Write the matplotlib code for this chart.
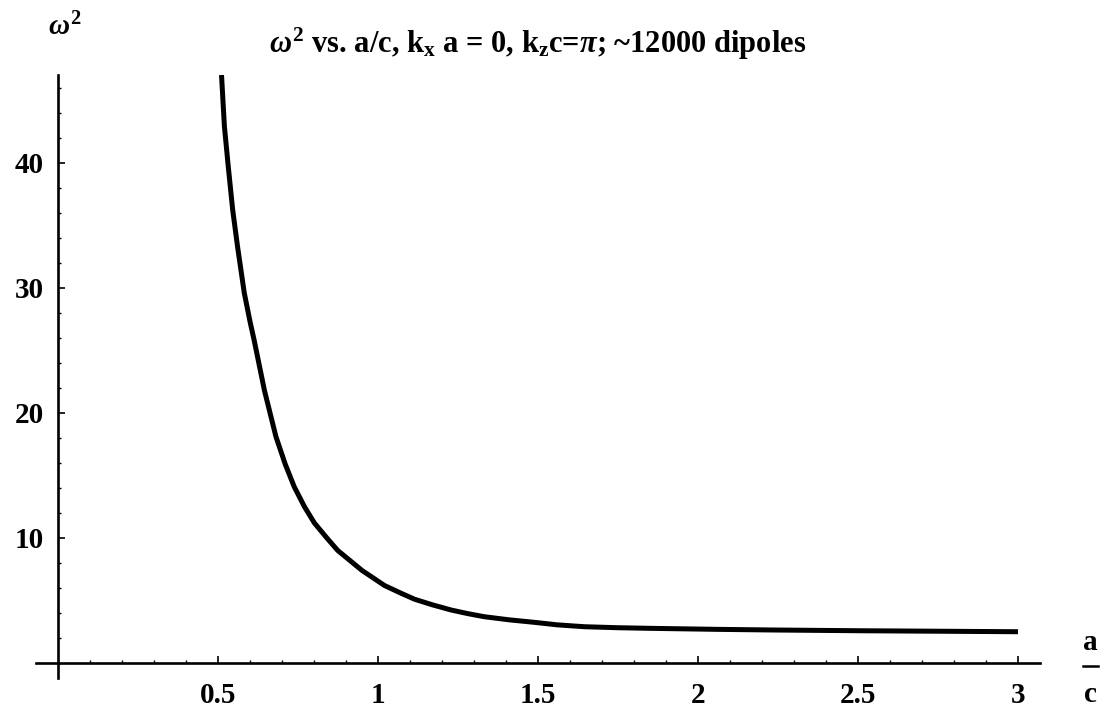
import matplotlib
matplotlib.use('Agg')
import matplotlib.pyplot as plt
from matplotlib.ticker import MultipleLocator
from matplotlib.lines import Line2D

# curve (a/c, omega^2)
a_over_c = [0.511, 0.52, 0.532, 0.546, 0.561, 0.582, 0.60, 0.613, 0.645, 0.681,
            0.71, 0.738, 0.77, 0.801, 0.84, 0.874, 0.95, 1.02, 1.07, 1.114,
            1.17, 1.228, 1.28, 1.332, 1.41, 1.489, 1.56, 1.645, 1.75, 1.853,
            2.06, 2.23, 2.5, 2.75, 3.0]
omega_sq = [47.0, 42.9, 39.7, 36.2, 33.3, 29.6, 27.3, 25.8, 21.8, 18.1,
            15.9, 14.1, 12.5, 11.2, 10.0, 9.0, 7.4, 6.2, 5.6, 5.1,
            4.65, 4.24, 3.95, 3.7, 3.45, 3.25, 3.05, 2.9, 2.82, 2.77,
            2.69, 2.64, 2.58, 2.54, 2.5]

x_ticks = [0.5, 1, 1.5, 2, 2.5, 3]
x_tick_labels = ['0.5', '1', '1.5', '2', '2.5', '3']
y_ticks = [10, 20, 30, 40]

plt.rcParams['font.family'] = 'Liberation Serif'
plt.rcParams['font.weight'] = 'bold'
plt.rcParams['mathtext.fontset'] = 'custom'
plt.rcParams['mathtext.rm'] = 'Liberation Serif:bold'
plt.rcParams['mathtext.it'] = 'Liberation Serif:italic:bold'
plt.rcParams['mathtext.bf'] = 'Liberation Serif:bold'

fig = plt.figure(figsize=(11.02, 7.19), dpi=100)
ax = fig.add_axes([0.0323, 0.0570, 0.9118, 0.8387])

ax.plot(a_over_c, omega_sq, color='black', linewidth=3.6,
        solid_capstyle='butt', solid_joinstyle='round')

ax.set_xlim(-0.07, 3.07)
ax.set_ylim(-1.2, 47.0)

# Mathematica style axes crossing at the origin
for side in ['top', 'right']:
    ax.spines[side].set_visible(False)
ax.spines['left'].set_position(('data', 0))
ax.spines['bottom'].set_position(('data', 0))
ax.spines['left'].set_linewidth(1.9)
ax.spines['bottom'].set_linewidth(1.9)

ax.set_xticks(x_ticks)
ax.set_xticklabels(x_tick_labels)
ax.set_yticks(y_ticks)
ax.xaxis.set_minor_locator(MultipleLocator(0.1))
ax.yaxis.set_minor_locator(MultipleLocator(2))
ax.tick_params(which='major', direction='in', length=5, width=1.2, labelsize=21)
ax.tick_params(axis='x', which='major', pad=14)
ax.tick_params(axis='y', which='major', pad=10)
ax.tick_params(which='minor', direction='in', length=2.5, width=1.0)

ax.set_title(r'$\omega^2$ vs. a/c, k$_{\mathrm{x}}$ a = 0, k$_{\mathrm{z}}$c=$\pi$; ~12000 dipoles',
             fontsize=22, fontweight='bold', pad=16)

# axis labels placed like the original
fig.text(65 / 1102, 1 - 27 / 719, r'$\omega^2$', ha='center', va='center', fontsize=21)
fig.text(1090 / 1102, 1 - 643 / 719, 'a', ha='center', va='center', fontsize=21)
fig.text(1090 / 1102, 1 - 694 / 719, 'c', ha='center', va='center', fontsize=21)
fig.add_artist(Line2D([1083 / 1102, 1098 / 1102], [1 - 666 / 719, 1 - 666 / 719],
                      color='black', linewidth=1.8, transform=fig.transFigure))

plt.savefig('out.png', dpi=100)
plt.close()
